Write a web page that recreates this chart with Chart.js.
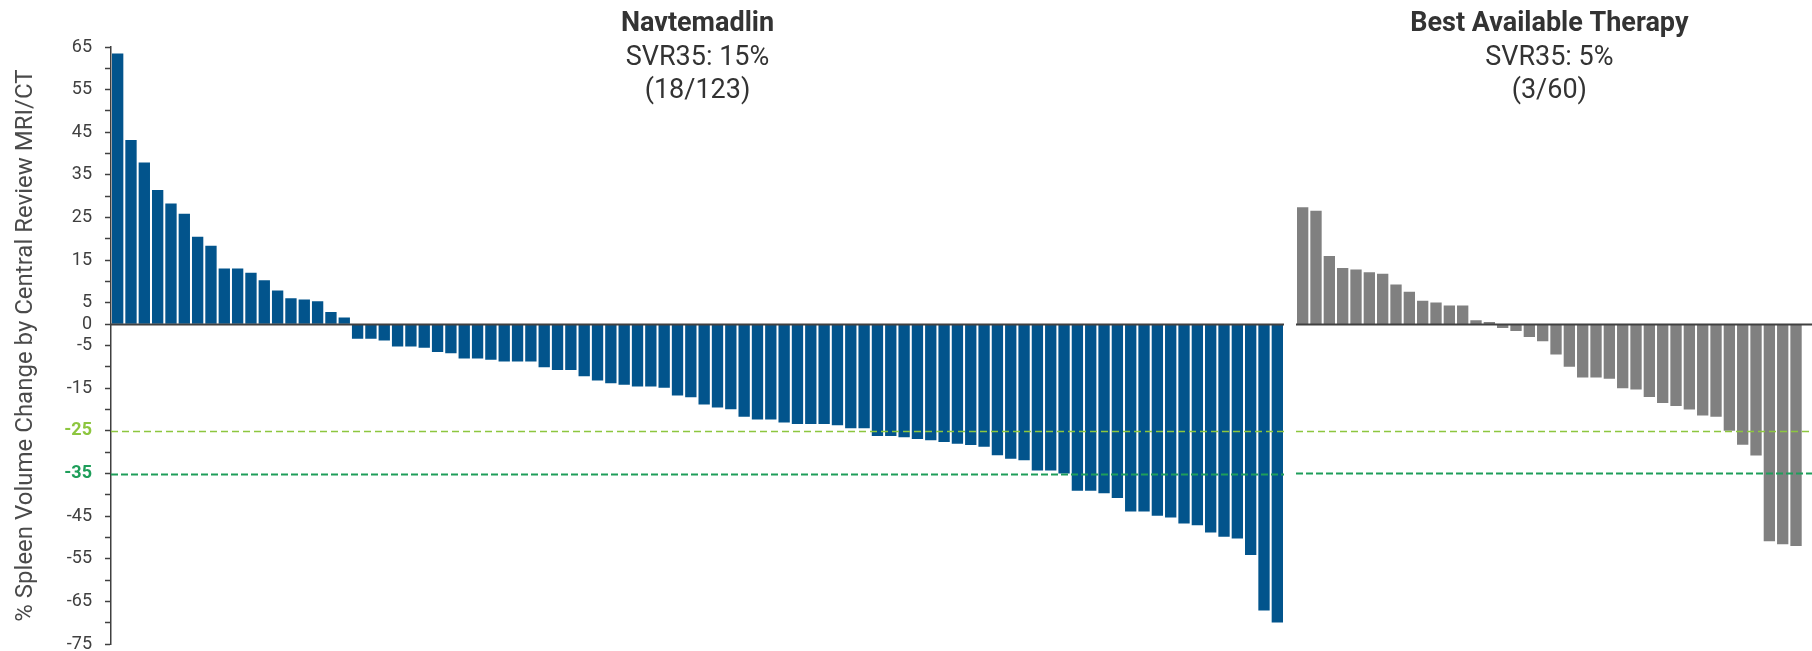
<!DOCTYPE html>
<html>
<head>
<meta charset="utf-8">
<script src="https://cdn.jsdelivr.net/npm/chart.js@4"></script>
<style>
  html, body { margin: 0; padding: 0; background: #fff; overflow: hidden; }
  #wrap { position: relative; width: 1812px; height: 651px; overflow: hidden; }
  .box { position: absolute; top: 0; }
  #navBox { left: 0; width: 1284px; height: 668px; }
  #batBox { left: 1296px; width: 516px; height: 655px; }
</style>
</head>
<body>
<div id="wrap">
  <div class="box" id="navBox"><canvas id="navChart"></canvas></div>
  <div class="box" id="batBox"><canvas id="batChart"></canvas></div>
</div>
<script>
// % change in spleen volume, one value per patient, sorted
const navChange = [
  63.5, 43.2, 37.9, 31.5, 28.3, 25.9, 20.5, 18.4, 13.1, 13.1,
  12.1, 10.3, 7.9, 6.1, 5.8, 5.4, 2.9, 1.6, -3.4, -3.4,
  -3.8, -5.2, -5.2, -5.5, -6.5, -6.8, -8.0, -8.0, -8.3, -8.7,
  -8.7, -8.7, -10.1, -10.7, -10.7, -12.2, -13.2, -13.8, -14.2, -14.6,
  -14.6, -14.9, -16.7, -17.1, -18.8, -19.5, -19.9, -21.7, -22.3, -22.3,
  -23.0, -23.4, -23.4, -23.4, -23.7, -24.4, -24.4, -26.2, -26.2, -26.5,
  -26.9, -27.2, -27.6, -28.0, -28.3, -28.7, -30.7, -31.5, -31.9, -34.3,
  -34.3, -35.0, -39.0, -39.0, -39.6, -40.7, -43.9, -43.9, -44.9, -45.3,
  -46.7, -47.1, -48.8, -49.8, -50.2, -54.1, -67.1, -69.9
];
const batChange = [
  27.4, 26.6, 16.0, 13.2, 12.8, 12.2, 11.8, 9.3, 7.6, 5.5,
  5.1, 4.4, 4.4, 0.9, 0.5, -0.9, -1.6, -3.0, -4.0, -7.1,
  -10.0, -12.5, -12.5, -12.8, -15.0, -15.3, -17.1, -18.5, -19.2, -20.0,
  -21.4, -21.7, -25.0, -28.3, -30.8, -50.9, -51.6, -52.0
];
const navLabels = navChange.map((_, i) => 'N' + (i + 1));
const batLabels = batChange.map((_, i) => 'B' + (i + 1));

const yTickLabels = [65, 55, 45, 35, 25, 15, 5, 0, -5, -15, -25, -35, -45, -55, -65, -75];
const yMin = -75, yMax = 65;
const thresholds = [-25, -35];

const navHeader = ['Navtemadlin', 'SVR35: 15%', '(18/123)'];
const batHeader = ['Best Available Therapy', 'SVR35: 5%', '(3/60)'];
const yTitle = '% Spleen Volume Change by Central Review MRI/CT';

const BLUE = '#02548c';
const GREY = '#808080';
const AXIS = '#404040';
const LIGHT_GREEN = '#8dc63f';
const DARK_GREEN = '#1e9e5a';

// reference lines (0, -25, -35) over the bars
const refLines = {
  id: 'refLines',
  afterDatasetsDraw(chart, args, opts) {
    const { ctx, chartArea, scales: { y } } = chart;
    const right = opts.toEdge ? chart.width : chartArea.right;
    ctx.save();
    opts.lines.forEach(l => {
      const py = Math.round(y.getPixelForValue(l.value)) + 0.5;
      ctx.beginPath();
      ctx.strokeStyle = l.color;
      ctx.lineWidth = l.width;
      ctx.setLineDash(l.dash || []);
      ctx.moveTo(chartArea.left, py);
      ctx.lineTo(right, py);
      ctx.stroke();
    });
    ctx.restore();
  }
};

// group header above each panel
const headers = {
  id: 'headers',
  afterDraw(chart, args, opts) {
    const { ctx, chartArea } = chart;
    const cx = (chartArea.left + chartArea.right) / 2;
    ctx.save();
    ctx.textAlign = 'center';
    ctx.textBaseline = 'alphabetic';
    ctx.fillStyle = '#333333';
    ctx.font = 'bold 27px Roboto';
    ctx.fillText(opts.lines[0], cx, 31);
    ctx.font = '27px Roboto';
    ctx.fillText(opts.lines[1], cx, 65);
    ctx.fillText(opts.lines[2], cx, 98);
    ctx.restore();
  }
};

const lineSet = [
  { value: 0, color: AXIS, width: 2 },
  { value: thresholds[0], color: LIGHT_GREEN, width: 1.5, dash: [7, 4] },
  { value: thresholds[1], color: DARK_GREEN, width: 2, dash: [7, 3] }
];

function tickColor(c) {
  const v = c.tick && c.tick.value;
  if (v === thresholds[0]) return LIGHT_GREEN;
  if (v === thresholds[1]) return DARK_GREEN;
  return AXIS;
}

new Chart(document.getElementById('navChart'), {
  type: 'bar',
  data: {
    labels: navLabels,
    datasets: [{
      data: navChange,
      backgroundColor: BLUE,
      borderWidth: 0,
      barPercentage: 0.85,
      categoryPercentage: 1.0
    }]
  },
  plugins: [refLines, headers],
  options: {
    responsive: true,
    maintainAspectRatio: false,
    animation: false,
    layout: { padding: { top: 47, bottom: 11, left: 0, right: 0 } },
    plugins: {
      legend: { display: false },
      tooltip: { enabled: false },
      headers: { lines: navHeader },
      refLines: { lines: lineSet, toEdge: false }
    },
    scales: {
      x: { display: false },
      y: {
        min: yMin,
        max: yMax,
        afterFit(scale) { scale.width = 111; },
        border: { color: AXIS, width: 1.5 },
        grid: { drawOnChartArea: false, tickLength: 6, tickColor: AXIS, tickWidth: 1.5 },
        ticks: {
          stepSize: 5,
          autoSkip: false,
          padding: 13,
          color: tickColor,
          font: c => {
            const v = c.tick && c.tick.value;
            const bold = thresholds.includes(v);
            return { family: 'Roboto', size: 18, weight: bold ? 'bold' : 'normal' };
          },
          callback: v => (yTickLabels.includes(v) ? String(v) : '')
        },
        title: {
          display: true,
          text: yTitle,
          color: '#4a4a4a',
          font: { family: 'Roboto', size: 24 },
          padding: { top: 12, bottom: 0 }
        }
      }
    }
  }
});

new Chart(document.getElementById('batChart'), {
  type: 'bar',
  data: {
    labels: batLabels,
    datasets: [{
      data: batChange,
      backgroundColor: GREY,
      borderWidth: 0,
      barPercentage: 0.85,
      categoryPercentage: 1.0
    }]
  },
  plugins: [refLines, headers],
  options: {
    responsive: true,
    maintainAspectRatio: false,
    animation: false,
    layout: { padding: { top: 47, bottom: 11, left: 0, right: 9.3 } },
    plugins: {
      legend: { display: false },
      tooltip: { enabled: false },
      headers: { lines: batHeader },
      refLines: { lines: lineSet, toEdge: true }
    },
    scales: {
      x: { display: false },
      y: { display: false, min: yMin, max: yMax }
    }
  }
});
</script>
</body>
</html>
